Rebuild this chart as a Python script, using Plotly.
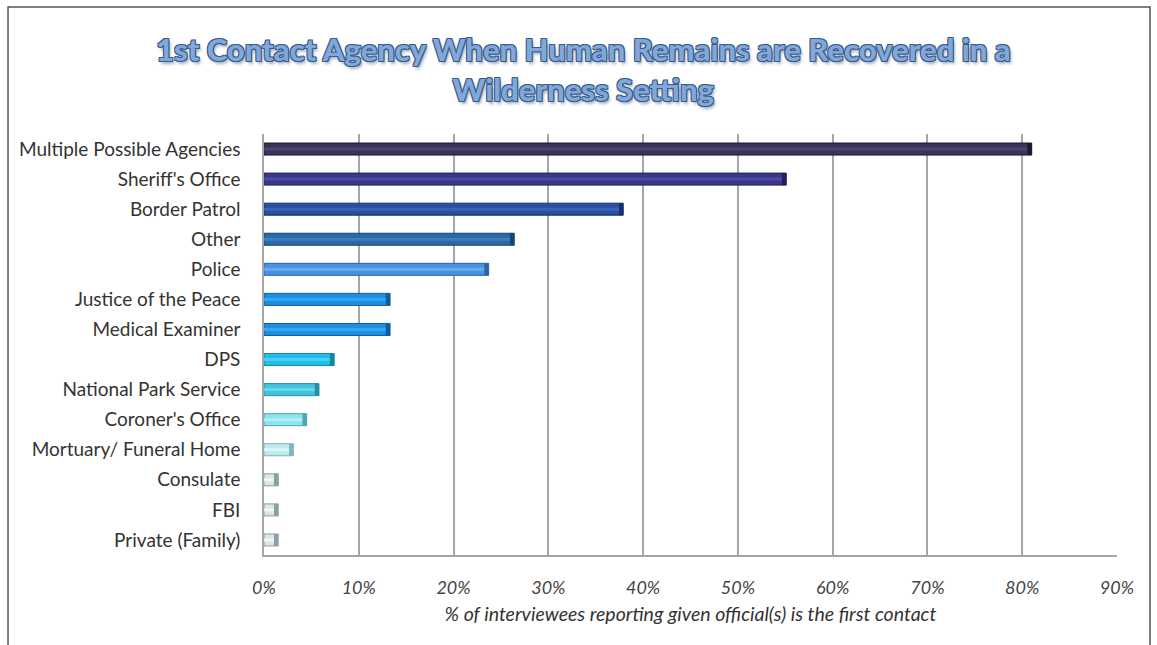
import plotly.graph_objects as go

# Agencies named as the first contact, top to bottom
agencies = [
    "Multiple Possible Agencies",
    "Sheriff's Office",
    "Border Patrol",
    "Other",
    "Police",
    "Justice of the Peace",
    "Medical Examiner",
    "DPS",
    "National Park Service",
    "Coroner's Office",
    "Mortuary/ Funeral Home",
    "Consulate",
    "FBI",
    "Private (Family)",
]
# Share of interviewees (%) naming each agency
percent = [81.0, 55.1, 37.9, 26.4, 23.7, 13.3, 13.3, 7.4, 5.8, 4.5, 3.1, 1.5, 1.5, 1.5]

# Bar fill, a lighter centre sheen, and the darker rim / end cap
fill = ["#3a3358", "#3b3987", "#2b4f9e", "#2a69a6", "#4a90e0", "#1b8fe0", "#1b8fe0",
        "#22bde8", "#40c4dd", "#8de2ee", "#bde9ed", "#dbe6e8", "#dbe6e8", "#dbe6e8"]
sheen = ["#4a4470", "#4c4aa3", "#3a63b8", "#3a7fc0", "#6aa8ee", "#3aa5ee", "#3aa5ee",
         "#4ad0f0", "#66d6ea", "#b0f0f8", "#dcf7f9", "#f0f6f7", "#f0f6f7", "#f0f6f7"]
rim = ["#1c182f", "#211f55", "#16306c", "#174472", "#2862ad", "#0d5d9c", "#0d5d9c",
       "#1386a6", "#2a8ea3", "#4aa6b4", "#7fb5bb", "#8c9fa3", "#8c9fa3", "#8c9fa3"]

cap_len = 0.45
cap_base = [v - cap_len for v in percent]

fig = go.Figure()
fig.add_trace(go.Bar(
    y=agencies, x=percent, orientation="h", width=0.4,
    marker=dict(color=fill, line=dict(color=rim, width=1)),
    hoverinfo="skip",
))
fig.add_trace(go.Bar(
    y=agencies, x=percent, orientation="h", width=0.1,
    marker=dict(color=sheen, line=dict(width=0)),
    hoverinfo="skip",
))
fig.add_trace(go.Bar(
    y=agencies, x=[cap_len] * len(percent), base=cap_base, orientation="h", width=0.4,
    marker=dict(color=rim, line=dict(width=0)),
    hoverinfo="skip",
))

title_shadow = ("-1px -1px 0 #3a5b88, 1px -1px 0 #3a5b88, -1px 1px 0 #3a5b88, "
                "1px 1px 0 #3a5b88, 2px 3px 3px rgba(90,110,140,0.55)")

fig.update_layout(
    width=1157, height=645,
    margin=dict(l=264, r=40, t=134, b=90),
    paper_bgcolor="white", plot_bgcolor="white",
    barmode="overlay", showlegend=False,
    xaxis=dict(
        range=[0, 90], dtick=10, tick0=0, ticksuffix="%",
        showgrid=True, gridcolor="#a6a6a6", gridwidth=1.5,
        showline=True, linecolor="#a6a6a6", linewidth=1.5,
        zeroline=False, ticks="", ticklen=0, ticklabelstandoff=16,
        tickfont=dict(family="Lato", size=18, color="#444444", style="italic"),
        title=dict(text="% of interviewees reporting given official(s) is the first contact",
                   font=dict(family="Lato", size=19.5, color="#333333", style="italic"),
                   standoff=10),
    ),
    yaxis=dict(
        autorange="reversed", showgrid=False,
        showline=True, linecolor="#a6a6a6", linewidth=1.5,
        ticks="", ticklabelstandoff=18,
        tickfont=dict(family="Lato", size=19, color="#333333"),
    ),
    annotations=[dict(
        text="1st Contact Agency When Human Remains are Recovered in a<br>Wilderness Setting",
        xref="paper", yref="paper", x=0.374, y=1.1544, xanchor="center", yanchor="middle",
        showarrow=False, align="center",
        font=dict(family="Lato", size=31, color="#80a8da", weight=900, shadow=title_shadow),
    )],
    shapes=[dict(
        type="rect", xref="paper", yref="paper",
        x0=-0.3001, x1=1.0387, y0=-0.3, y1=1.3017,
        line=dict(color="#555555", width=1.5), layer="below",
    )],
)
fig.update_xaxes(automargin=False)
fig.update_yaxes(automargin=False)

fig.write_html("out.html")
